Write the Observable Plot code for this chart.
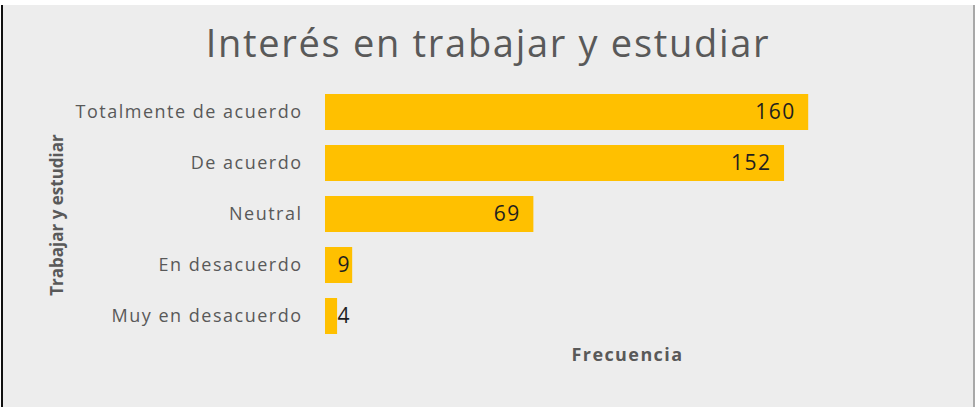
<!DOCTYPE html>
<html>
<head>
<meta charset="utf-8">
<script src="https://cdn.jsdelivr.net/npm/d3@7"></script>
<script src="https://cdn.jsdelivr.net/npm/@observablehq/plot@0.6"></script>
<style>
  html, body { margin: 0; padding: 0; background: #ffffff; }
  #frame {
    position: absolute; left: 1px; top: 5px; width: 970px; height: 402px;
    background: #ededed; border-left: 2px solid #111; border-right: 2px solid #a8a8a8;
    overflow: hidden;
  }
  #title {
    position: absolute; left: 0; width: 970px; top: 18px; text-align: center;
    font-family: "Open Sans", sans-serif; font-size: 38px; line-height: 38px; color: #595959; letter-spacing: 1.7px;
  }
  #chart { position: absolute; left: 0; top: 0; }
</style>
</head>
<body>
<div id="frame">
  <div id="title">Interés en trabajar y estudiar</div>
  <div id="chart"></div>
</div>
<script>
const categories = ["Totalmente de acuerdo", "De acuerdo", "Neutral", "En desacuerdo", "Muy en desacuerdo"];
const values = [160, 152, 69, 9, 4];
const yTitle = "Trabajar y estudiar";
const xTitle = "Frecuencia";

const data = categories.map((c, i) => ({category: c, value: values[i]}));
const big = data.filter(d => d.value >= 20);
const small = data.filter(d => d.value < 20);

const plot = Plot.plot({
  width: 970,
  height: 402,
  marginLeft: 322,
  marginRight: 44,
  marginTop: 80,
  marginBottom: 63,
  style: {background: "transparent", fontFamily: "Open Sans, sans-serif"},
  x: {domain: [0, 200], axis: null},
  y: {domain: categories, paddingInner: 0.29, paddingOuter: 0.145, label: null},
  marks: [
    Plot.axisY({tickSize: 0, tickPadding: 23, fontSize: 18, color: "#595959", label: null}),
    Plot.barX(data, {x: "value", y: "category", fill: "#ffc000"}),
    Plot.text(big, {x: "value", y: "category", text: d => String(d.value), textAnchor: "end", dx: -13, fontSize: 21, fill: "#1f1f1f"}),
    Plot.text(small, {x: 0, y: "category", text: d => String(d.value), textAnchor: "start", dx: 12, fontSize: 21, fill: "#1f1f1f"}),
    Plot.text([yTitle], {frameAnchor: "left", text: d => d, rotate: -90, textAnchor: "middle", dx: -268, fontSize: 17, fontWeight: "bold", fill: "#595959"}),
    Plot.text([xTitle], {frameAnchor: "bottom", text: d => d, dy: 16, fontSize: 18, fontWeight: "bold", fill: "#595959"})
  ]
});
document.getElementById("chart").appendChild(plot);
const svg = d3.select(plot);
svg.selectAll("g[aria-label='y-axis tick label'] text").style("letter-spacing", "1.5px");
const bigLabels = new Set(big.map(d => String(d.value)));
svg.selectAll("text").filter(function() { return bigLabels.has(this.textContent); }).style("letter-spacing", "1.5px");
svg.selectAll("text").filter(function() { return this.textContent === xTitle; }).style("letter-spacing", "1.4px");
</script>
</body>
</html>
